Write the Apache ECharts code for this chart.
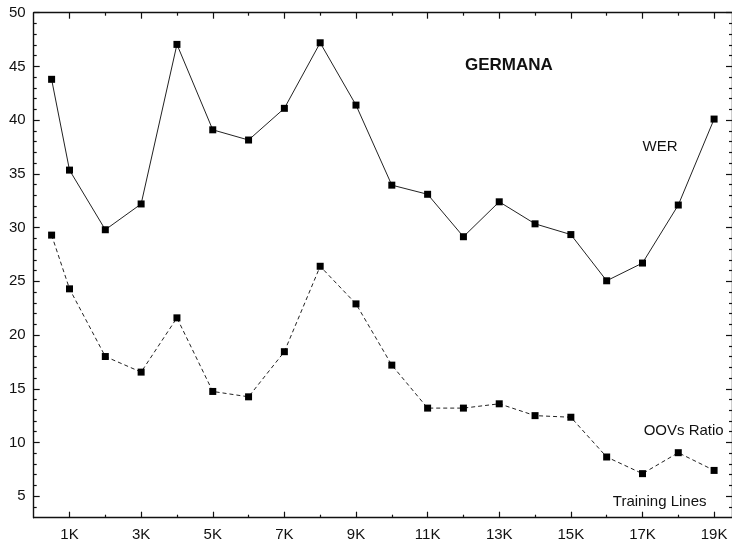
<!DOCTYPE html>
<html>
<head>
<meta charset="utf-8">
<script src="https://cdn.jsdelivr.net/npm/echarts@6/dist/echarts.min.js"></script>
<style>
html,body{margin:0;padding:0;background:#fff;}
#c{width:732px;height:544px;}
</style>
</head>
<body>
<div id="c"></div>
<script>
// Training lines (thousands)
const trainingK = [0.5, 1, 2, 3, 4, 5, 6, 7, 8, 9, 10, 11, 12, 13, 14, 15, 16, 17, 18, 19];
const werValues = [43.8, 35.35, 29.8, 32.2, 47.05, 39.1, 38.15, 41.1, 47.2, 41.4, 33.95, 33.1, 29.15, 32.4, 30.35, 29.35, 25.05, 26.7, 32.1, 40.1];
const oovValues = [29.3, 24.3, 18.0, 16.55, 21.6, 14.75, 14.25, 18.45, 26.4, 22.9, 17.2, 13.2, 13.2, 13.6, 12.5, 12.35, 8.65, 7.1, 9.05, 7.4];
const xMajorTicks = [1, 3, 5, 7, 9, 11, 13, 15, 17, 19];
const xMinorTicks = [2, 4, 6, 8, 10, 12, 14, 16, 18];
const yMajorTicks = [5, 10, 15, 20, 25, 30, 35, 40, 45, 50];
const yMinorTicks = [4,6,7,8,9,11,12,13,14,16,17,18,19,21,22,23,24,26,27,28,29,31,32,33,34,36,37,38,39,41,42,43,44,46,47,48,49];
const chartTitle = 'GERMANA';
const werName = 'WER';
const oovName = 'OOVs Ratio';
const xName = 'Training Lines';

const FONT = "'Liberation Sans', Arial, Helvetica, sans-serif";
const INK = '#111';

function xAx(pos, ticks, len, labels, line) {
  return {
    type: 'value', position: pos, min: 0, max: 19.5,
    axisLine: { show: line, onZero: false, lineStyle: { color: INK, width: 1.4 } },
    axisTick: { show: true, inside: true, length: len, customValues: ticks, lineStyle: { color: INK, width: 1.2 } },
    axisLabel: labels ? { show: true, customValues: ticks, formatter: v => v + 'K', color: INK, fontSize: 15, fontFamily: FONT, margin: 10 } : { show: false },
    splitLine: { show: false }
  };
}
function yAx(pos, ticks, len, labels, line) {
  return {
    type: 'value', position: pos, min: 3, max: 50,
    axisLine: { show: line, onZero: false, lineStyle: { color: INK, width: 1.4 } },
    axisTick: { show: true, inside: true, length: len, customValues: ticks, lineStyle: { color: INK, width: 1.2 } },
    axisLabel: labels ? { show: true, customValues: ticks, color: INK, fontSize: 15, fontFamily: FONT, margin: 8 } : { show: false },
    splitLine: { show: false }
  };
}

const chart = echarts.init(document.getElementById('c'), null, { renderer: 'canvas' });
const pairs = (ys) => trainingK.map((x, i) => [x, ys[i]]);

chart.setOption({
  animation: false,
  backgroundColor: '#fff',
  grid: { left: 33.7, right: -3.5, top: 12.7, bottom: 26.3, containLabel: false },
  xAxis: [
    xAx('bottom', xMajorTicks, 6, true, true),
    xAx('bottom', xMinorTicks, 3, false, false),
    xAx('top', xMajorTicks, 6, false, true),
    xAx('top', xMinorTicks, 3, false, false)
  ],
  yAxis: [
    yAx('left', yMajorTicks, 6, true, true),
    yAx('left', yMinorTicks, 3, false, false),
    yAx('right', yMajorTicks, 6, false, true),
    yAx('right', yMinorTicks, 3, false, false)
  ],
  series: [
    {
      name: werName, type: 'line', data: pairs(werValues),
      symbol: 'rect', symbolSize: 7,
      itemStyle: { color: '#000' },
      lineStyle: { color: '#222', width: 1, type: 'solid' }
    },
    {
      name: oovName, type: 'line', data: pairs(oovValues),
      symbol: 'rect', symbolSize: 7,
      itemStyle: { color: '#000' },
      lineStyle: { color: '#222', width: 1, type: [4, 3] }
    }
  ]
});

function place(text, x, y, size, weight) {
  const p = chart.convertToPixel({ gridIndex: 0 }, [x, y]);
  return {
    type: 'text', x: p[0], y: p[1],
    style: { text: text, fill: INK, font: weight + ' ' + size + 'px ' + FONT, textAlign: 'center', textVerticalAlign: 'middle' }
  };
}
chart.setOption({
  graphic: [
    place(chartTitle, 13.27, 45.07, 17, 'bold'),
    place(werName, 17.49, 37.54, 15, 'normal'),
    place(oovName, 18.15, 11.05, 15, 'normal'),
    place(xName, 17.48, 4.44, 15, 'normal')
  ]
});
</script>
</body>
</html>
